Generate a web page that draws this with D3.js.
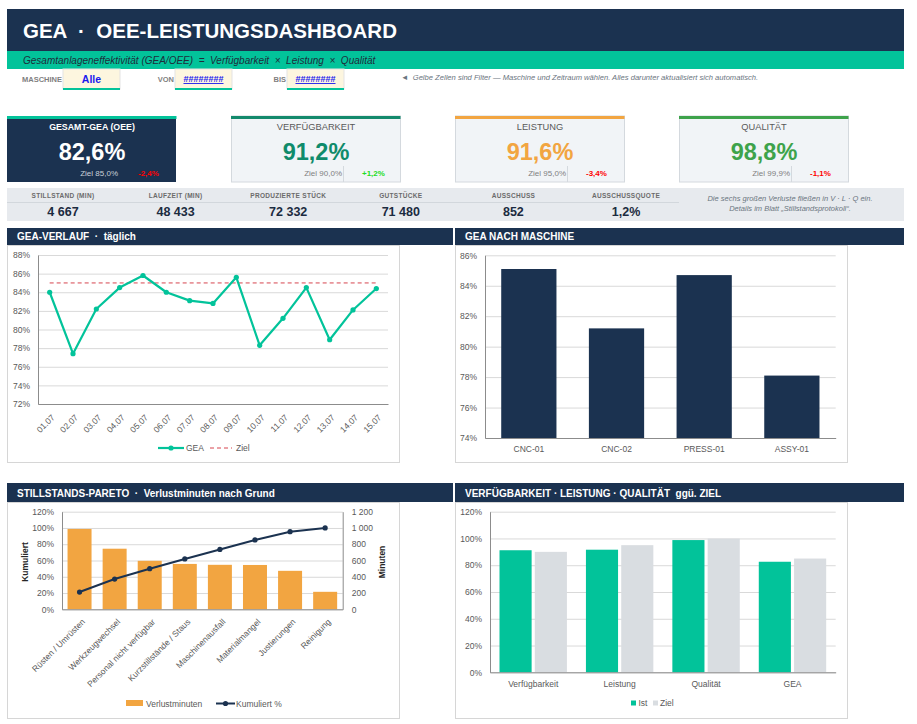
<!DOCTYPE html>
<html>
<head>
<meta charset="utf-8">
<script src="https://cdn.jsdelivr.net/npm/d3@7"></script>
<style>
  body { margin: 0; background: #fff; }
  svg { display: block; font-family: "Liberation Sans", Arial, sans-serif; }
</style>
</head>
<body>
<div id="dash"></div>
<script>
// ---- data ----
var kpiTitles = ['GESAMT-GEA (OEE)', 'VERFÜGBARKEIT', 'LEISTUNG', 'QUALITÄT'];
var kpiValues = [82.6, 91.2, 91.6, 98.8];
var kpiTargets = [85.0, 90.0, 95.0, 99.9];
var kpiDeltas = [-2.4, 1.2, -3.4, -1.1];

var statLabels = ['STILLSTAND (MIN)', 'LAUFZEIT (MIN)', 'PRODUZIERTE STÜCK', 'GUTSTÜCKE', 'AUSSCHUSS', 'AUSSCHUSSQUOTE'];
var statValues = [4667, 48433, 72332, 71480, 852, 1.2];

var days = ['01.07', '02.07', '03.07', '04.07', '05.07', '06.07', '07.07', '08.07',
  '09.07', '10.07', '11.07', '12.07', '13.07', '14.07', '15.07'];
var geaDaily = [84.0, 77.4, 82.2, 84.5, 85.8, 84.0, 83.1, 82.8, 85.6, 78.3, 81.2, 84.5, 78.9, 82.1, 84.4];
var geaTarget = 85;

var machines = ['CNC-01', 'CNC-02', 'PRESS-01', 'ASSY-01'];
var geaMachine = [85.1, 81.2, 84.7, 78.1];

var reasons = ['Rüsten / Umrüsten', 'Werkzeugwechsel', 'Personal nicht verfügbar', 'Kurzstillstände / Staus',
  'Maschinenausfall', 'Materialmangel', 'Justierungen', 'Reinigung'];
var lossMinutes = [988, 745, 596, 558, 547, 545, 473, 215];
var cumPct = [21.2, 37.2, 49.9, 61.9, 73.6, 85.3, 95.4, 100];

var factors = ['Verfügbarkeit', 'Leistung', 'Qualität', 'GEA'];
var factorIst = [91.2, 91.6, 98.8, 82.6];
var factorZiel = [90.0, 95.0, 99.9, 85.0];

// ---- colours ----
var navy = '#1b3250',
  teal = '#02c39a',
  tealDark = '#138a6c',
  orange = '#f2a541',
  green = '#3ea34b',
  zielGray = '#d9dde1',
  gridCol = '#d9d9d9',
  axisCol = '#8c8c8c',
  tickCol = '#595959',
  chartFont = '8.5px';

var de = d3.formatLocale({ decimal: ',', thousands: ' ', grouping: [3], currency: ['', '€'], minus: '-' });
var pct1 = function(v) { return de.format('.1f')(v) + '%'; };
var intFmt = de.format(',d');

var W = 917, H = 724;
var svg = d3.select('#dash').append('svg').attr('width', W).attr('height', H);

// ---- header ----
svg.append('rect').attr('x', 7).attr('y', 9).attr('width', 897).attr('height', 42).attr('fill', navy);
svg.append('rect').attr('x', 7).attr('y', 51).attr('width', 897).attr('height', 18).attr('fill', teal);
svg.append('text').attr('x', 23).attr('y', 38).attr('fill', '#fff')
  .style('font-size', '20.5px').style('font-weight', 'bold').style('white-space', 'pre')
  .text('GEA  ·  OEE-LEISTUNGSDASHBOARD');
svg.append('text').attr('x', 23).attr('y', 64).attr('fill', '#1f2d3a')
  .style('font-size', '10px').style('font-style', 'italic').style('white-space', 'pre')
  .text('Gesamtanlageneffektivität (GEA/OEE)  =  Verfügbarkeit  ×  Leistung  ×  Qualität');

// filter cells
var filters = [
  { label: 'MASCHINE', lx: 62, bx: 63, val: 'Alle' },
  { label: 'VON', lx: 174, bx: 175, val: '########' },
  { label: 'BIS', lx: 286, bx: 287, val: '########' }
];
filters.forEach(function(f) {
  svg.append('text').attr('x', f.lx).attr('y', 82).attr('text-anchor', 'end')
    .attr('fill', '#7f7f7f').style('font-size', '7.5px').style('font-weight', 'bold').text(f.label);
  svg.append('rect').attr('x', f.bx).attr('y', 69).attr('width', 57).attr('height', 20)
    .attr('fill', '#fdf6df').attr('stroke', '#e3e3e3');
  svg.append('rect').attr('x', f.bx).attr('y', 88).attr('width', 57).attr('height', 2).attr('fill', teal);
  svg.append('text').attr('x', f.bx + 28.5).attr('y', f.val === 'Alle' ? 83 : 82).attr('text-anchor', 'middle')
    .attr('fill', '#1a1aee').style('font-weight', 'bold')
    .style('font-size', f.val === 'Alle' ? '10.5px' : '9px')
    .style('text-decoration', f.val === 'Alle' ? 'none' : 'underline')
    .text(f.val);
});
svg.append('text').attr('x', 401).attr('y', 80).attr('fill', '#6b7580')
  .style('font-size', '7.6px').style('font-style', 'italic').style('white-space', 'pre')
  .text('◄  Gelbe Zellen sind Filter — Maschine und Zeitraum wählen. Alles darunter aktualisiert sich automatisch.');

// ---- KPI cards ----
var cardX = [7, 231, 455, 679];
var stripeCols = [teal, tealDark, orange, green];
var valueCols = ['#fff', '#0f8b6b', orange, green];
cardX.forEach(function(x0, i) {
  var g = svg.append('g').attr('transform', 'translate(' + x0 + ',0)');
  var dark = i === 0;
  g.append('rect').attr('x', dark ? 0 : 0.5).attr('y', 116).attr('width', 169).attr('height', 66)
    .attr('fill', dark ? navy : '#f1f4f7').attr('stroke', dark ? 'none' : '#d4d9de');
  g.append('rect').attr('x', 0).attr('y', 116).attr('width', 169.5).attr('height', 3).attr('fill', stripeCols[i]);
  g.append('text').attr('x', 85).attr('y', 130).attr('text-anchor', 'middle')
    .attr('fill', dark ? '#fff' : '#595959')
    .style('font-size', dark ? '8.8px' : '9.3px').style('font-weight', dark ? 'bold' : 'normal')
    .text(kpiTitles[i]);
  g.append('text').attr('x', 85).attr('y', 160).attr('text-anchor', 'middle')
    .attr('fill', valueCols[i]).style('font-size', '23.5px').style('font-weight', 'bold')
    .text(pct1(kpiValues[i]));
  g.append('text').attr('x', 111).attr('y', 176).attr('text-anchor', 'end')
    .attr('fill', dark ? '#c9d0d8' : '#7f7f7f').style('font-size', '8px')
    .text('Ziel ' + pct1(kpiTargets[i]));
  if (!dark) {
    g.append('line').attr('x1', 112.5).attr('x2', 112.5).attr('y1', 166).attr('y2', 182)
      .attr('stroke', '#d4d9de');
  }
  g.append('text').attr('x', 131).attr('y', 176)
    .attr('fill', kpiDeltas[i] < 0 ? '#ff0000' : '#22dd22')
    .style('font-size', '8px').style('font-weight', 'bold')
    .text((kpiDeltas[i] > 0 ? '+' : '') + pct1(kpiDeltas[i]));
});

// ---- stats row ----
svg.append('rect').attr('x', 7).attr('y', 188).attr('width', 897).attr('height', 33).attr('fill', '#e7eaee');
svg.append('line').attr('x1', 7).attr('x2', 679).attr('y1', 202.5).attr('y2', 202.5)
  .attr('stroke', '#d2d7dc').attr('stroke-width', 1);
statLabels.forEach(function(lab, i) {
  var cx = 63 + i * 112.6;
  svg.append('text').attr('x', cx).attr('y', 197.5).attr('text-anchor', 'middle')
    .attr('fill', '#6b6b6b').style('font-size', '6.5px').style('font-weight', 'bold')
    .style('letter-spacing', '0.3px').text(lab);
  var v = statValues[i];
  svg.append('text').attr('x', cx).attr('y', 215.5).attr('text-anchor', 'middle')
    .attr('fill', '#1b2b40').style('font-size', '12.5px').style('font-weight', 'bold')
    .text(i === 5 ? pct1(v) : intFmt(v));
});
svg.append('text').attr('x', 790).attr('y', 200.5).attr('text-anchor', 'middle').attr('fill', '#6b7580')
  .style('font-size', '7.5px').style('font-style', 'italic')
  .text('Die sechs großen Verluste fließen in V · L · Q ein.');
svg.append('text').attr('x', 790).attr('y', 211).attr('text-anchor', 'middle').attr('fill', '#6b7580')
  .style('font-size', '7.5px').style('font-style', 'italic')
  .text('Details im Blatt „Stillstandsprotokoll“.');

// ---- panel frames ----
function panel(hx, hy, hw, title, bx, by, bw, bh) {
  svg.append('rect').attr('x', bx + 0.5).attr('y', by + 0.5).attr('width', bw).attr('height', bh)
    .attr('fill', '#fff').attr('stroke', '#d6d6d6');
  svg.append('rect').attr('x', hx).attr('y', hy).attr('width', hw).attr('height', by - hy).attr('fill', navy);
  svg.append('text').attr('x', hx + 10).attr('y', by - 5).attr('fill', '#fff')
    .style('font-size', '10px').style('font-weight', 'bold').style('white-space', 'pre').text(title);
}
panel(7, 228, 446, 'GEA-VERLAUF  ·  täglich', 7, 245, 392, 217);
panel(455, 228, 449, 'GEA NACH MASCHINE', 455, 245, 392, 217);
panel(7, 483, 446, 'STILLSTANDS-PARETO  ·  Verlustminuten nach Grund', 7, 502, 392, 216);
panel(455, 483, 449, 'VERFÜGBARKEIT · LEISTUNG · QUALITÄT  ggü. ZIEL', 455, 502, 392, 216);

function styleAxis(sel) {
  sel.select('.domain').attr('stroke', axisCol);
  sel.selectAll('text').attr('fill', tickCol).style('font-size', chartFont)
    .style('font-family', '"Liberation Sans", Arial, sans-serif');
}
function grid(g, scale, vals, x0, w) {
  var gg = g.append('g').attr('transform', 'translate(' + x0 + ',0)')
    .call(d3.axisLeft(scale).tickValues(vals).tickSize(-w).tickFormat(''));
  gg.select('.domain').remove();
  gg.selectAll('line').attr('stroke', gridCol);
}

// ---- GEA-Verlauf (line) ----
(function() {
  var g = svg.append('g');
  var x = d3.scalePoint().domain(days).range([38, 388]).padding(0.5);
  var y = d3.scaleLinear().domain([72, 88]).range([404, 255]);
  var yt = d3.range(72, 89, 2);
  grid(g, y, yt, 38, 350);
  g.append('g').attr('transform', 'translate(38,0)')
    .call(d3.axisLeft(y).tickValues(yt).tickSize(0).tickPadding(8).tickFormat(function(d) { return d + '%'; }))
    .call(styleAxis);
  var xa = g.append('g').attr('transform', 'translate(0,404)')
    .call(d3.axisBottom(x).tickSize(0).tickSizeOuter(0))
    .call(styleAxis);
  xa.selectAll('text').attr('text-anchor', 'end').attr('dy', '0.35em')
    .attr('transform', 'translate(3,12) rotate(-45)').attr('y', 0).attr('x', 0);

  g.append('line').attr('x1', x(days[0])).attr('x2', x(days[days.length - 1]))
    .attr('y1', y(geaTarget)).attr('y2', y(geaTarget))
    .attr('stroke', '#d6454f').attr('stroke-width', 1).attr('stroke-dasharray', '4,3');
  var line = d3.line().x(function(d, i) { return x(days[i]); }).y(function(d) { return y(d); });
  g.append('path').datum(geaDaily).attr('d', line).attr('fill', 'none')
    .attr('stroke', teal).attr('stroke-width', 2.2).attr('stroke-linejoin', 'round');
  g.selectAll('circle.pt').data(geaDaily).enter().append('circle')
    .attr('cx', function(d, i) { return x(days[i]); }).attr('cy', function(d) { return y(d); })
    .attr('r', 2.6).attr('fill', teal);

  // legend
  g.append('line').attr('x1', 158).attr('x2', 184).attr('y1', 448).attr('y2', 448)
    .attr('stroke', teal).attr('stroke-width', 2.2);
  g.append('circle').attr('cx', 171).attr('cy', 448).attr('r', 2.6).attr('fill', teal);
  g.append('text').attr('x', 186).attr('y', 451).attr('fill', tickCol).style('font-size', chartFont).text('GEA');
  g.append('line').attr('x1', 210).attr('x2', 232).attr('y1', 448).attr('y2', 448)
    .attr('stroke', '#d6454f').attr('stroke-dasharray', '4,3');
  g.append('text').attr('x', 236).attr('y', 451).attr('fill', tickCol).style('font-size', chartFont).text('Ziel');
})();

// ---- GEA nach Maschine (bars) ----
(function() {
  var g = svg.append('g');
  var x = d3.scaleBand().domain(machines).range([485, 835.7]).paddingInner(0.37).paddingOuter(0.185);
  var y = d3.scaleLinear().domain([74, 86]).range([438, 255.3]);
  var yt = d3.range(74, 87, 2);
  grid(g, y, yt, 485, 350.7);
  g.selectAll('rect.bar').data(geaMachine).enter().append('rect')
    .attr('x', function(d, i) { return x(machines[i]); })
    .attr('y', function(d) { return y(d); })
    .attr('width', x.bandwidth())
    .attr('height', function(d) { return y(74) - y(d); })
    .attr('fill', navy);
  g.append('g').attr('transform', 'translate(485,0)')
    .call(d3.axisLeft(y).tickValues(yt).tickSize(0).tickPadding(8).tickFormat(function(d) { return d + '%'; }))
    .call(styleAxis);
  g.append('g').attr('transform', 'translate(0,438)')
    .call(d3.axisBottom(x).tickSize(0).tickSizeOuter(0).tickPadding(8))
    .call(styleAxis);
})();

// ---- Stillstands-Pareto ----
(function() {
  var g = svg.append('g');
  var x = d3.scaleBand().domain(reasons).range([62, 342.7]).paddingInner(0.316).paddingOuter(0.158);
  var yL = d3.scaleLinear().domain([0, 120]).range([609.3, 511.7]);
  var yR = d3.scaleLinear().domain([0, 1200]).range([609.3, 511.7]);
  grid(g, yL, d3.range(0, 121, 20), 62, 280.7);
  g.selectAll('rect.bar').data(lossMinutes).enter().append('rect')
    .attr('x', function(d, i) { return x(reasons[i]); })
    .attr('y', function(d) { return yR(d); })
    .attr('width', x.bandwidth())
    .attr('height', function(d) { return yR(0) - yR(d); })
    .attr('fill', orange);
  g.append('g').attr('transform', 'translate(62,0)')
    .call(d3.axisLeft(yL).tickValues(d3.range(0, 121, 20)).tickSize(0).tickPadding(8)
      .tickFormat(function(d) { return d + '%'; }))
    .call(styleAxis);
  g.append('g').attr('transform', 'translate(342.7,0)')
    .call(d3.axisRight(yR).tickValues(d3.range(0, 1201, 200)).tickSize(0).tickPadding(9)
      .tickFormat(intFmt))
    .call(styleAxis);
  var xa = g.append('g').attr('transform', 'translate(0,609.3)')
    .call(d3.axisBottom(x).tickSize(0).tickSizeOuter(0))
    .call(styleAxis);
  xa.selectAll('text').attr('text-anchor', 'end').attr('dy', '0.35em')
    .attr('transform', 'translate(4,11) rotate(-45)').attr('y', 0).attr('x', 0);

  var cx = function(i) { return x(reasons[i]) + x.bandwidth() / 2; };
  var line = d3.line().x(function(d, i) { return cx(i); }).y(function(d) { return yL(d); });
  g.append('path').datum(cumPct).attr('d', line).attr('fill', 'none')
    .attr('stroke', navy).attr('stroke-width', 2);
  g.selectAll('circle.pt').data(cumPct).enter().append('circle')
    .attr('cx', function(d, i) { return cx(i); }).attr('cy', function(d) { return yL(d); })
    .attr('r', 2.6).attr('fill', navy);

  g.append('text').attr('transform', 'translate(28,562) rotate(-90)').attr('text-anchor', 'middle')
    .attr('fill', '#262626').style('font-size', chartFont).style('font-weight', 'bold').text('Kumuliert');
  g.append('text').attr('transform', 'translate(385,562) rotate(-90)').attr('text-anchor', 'middle')
    .attr('fill', '#262626').style('font-size', chartFont).style('font-weight', 'bold').text('Minuten');

  // legend
  g.append('rect').attr('x', 126).attr('y', 700).attr('width', 17).attr('height', 6).attr('fill', orange);
  g.append('text').attr('x', 146).attr('y', 707).attr('fill', tickCol).style('font-size', chartFont).text('Verlustminuten');
  g.append('line').attr('x1', 216).attr('x2', 235).attr('y1', 703.5).attr('y2', 703.5)
    .attr('stroke', navy).attr('stroke-width', 2);
  g.append('circle').attr('cx', 225.5).attr('cy', 703.5).attr('r', 2.6).attr('fill', navy);
  g.append('text').attr('x', 236).attr('y', 707).attr('fill', tickCol).style('font-size', chartFont).text('Kumuliert %');
})();

// ---- V · L · Q vs Ziel (grouped) ----
(function() {
  var g = svg.append('g');
  var series = ['Ist', 'Ziel'];
  var x0 = d3.scaleBand().domain(factors).range([490, 835.7]).paddingInner(0.22).paddingOuter(0.11);
  var x1 = d3.scaleBand().domain(series).range([0, x0.bandwidth()]).paddingInner(0.09);
  var y = d3.scaleLinear().domain([0, 120]).range([672.3, 511.7]);
  var yt = d3.range(0, 121, 20);
  grid(g, y, yt, 490, 345.7);
  var rows = factors.map(function(f, i) { return { f: f, vals: [factorIst[i], factorZiel[i]] }; });
  var grp = g.selectAll('g.grp').data(rows).enter().append('g')
    .attr('transform', function(d) { return 'translate(' + x0(d.f) + ',0)'; });
  grp.selectAll('rect').data(function(d) { return d.vals; }).enter().append('rect')
    .attr('x', function(d, i) { return x1(series[i]); })
    .attr('y', function(d) { return y(d); })
    .attr('width', x1.bandwidth())
    .attr('height', function(d) { return y(0) - y(d); })
    .attr('fill', function(d, i) { return i === 0 ? teal : zielGray; });
  g.append('g').attr('transform', 'translate(490,0)')
    .call(d3.axisLeft(y).tickValues(yt).tickSize(0).tickPadding(8).tickFormat(function(d) { return d + '%'; }))
    .call(styleAxis);
  g.append('g').attr('transform', 'translate(0,672.3)')
    .call(d3.axisBottom(x0).tickSize(0).tickSizeOuter(0).tickPadding(9))
    .call(styleAxis);

  g.append('rect').attr('x', 631).attr('y', 700.5).attr('width', 5).attr('height', 5).attr('fill', teal);
  g.append('text').attr('x', 638.5).attr('y', 706).attr('fill', tickCol).style('font-size', chartFont).text('Ist');
  g.append('rect').attr('x', 653).attr('y', 700.5).attr('width', 5).attr('height', 5).attr('fill', zielGray);
  g.append('text').attr('x', 660).attr('y', 706).attr('fill', tickCol).style('font-size', chartFont).text('Ziel');
})();
</script>
</body>
</html>
